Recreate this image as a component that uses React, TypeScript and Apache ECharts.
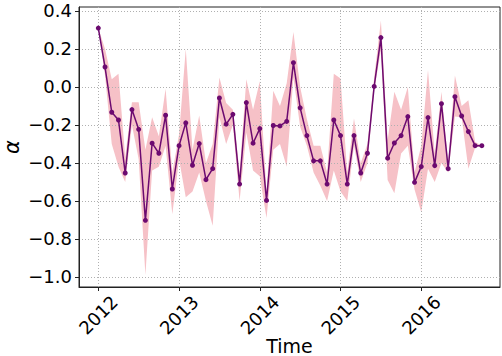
import React, { useEffect, useRef } from "react";
import * as echarts from "echarts";

// Monthly series, starting January 2012
const startYear = 2012;
const alpha = [
  0.31, 0.105, -0.133, -0.174, -0.453, -0.119, -0.223, -0.702, -0.296, -0.349, -0.149, -0.537,
  -0.309, -0.189, -0.412, -0.298, -0.488, -0.43, -0.058, -0.196, -0.144, -0.511, -0.082, -0.296,
  -0.219, -0.597, -0.203, -0.205, -0.181, 0.128, -0.11, -0.256, -0.389, -0.389, -0.511, -0.174,
  -0.256, -0.511, -0.256, -0.453, -0.349, 0.003, 0.26, -0.375, -0.295, -0.256, -0.156, -0.502,
  -0.419, -0.161, -0.414, -0.088, -0.43, -0.051, -0.153, -0.235, -0.309, -0.309,
];
const upper = [
  0.31, 0.2, 0.04, 0.07, -0.37, -0.08, -0.08, -0.33, -0.16, -0.26, -0.01, -0.45,
  -0.25, 0.2, -0.33, -0.15, -0.4, -0.3, 0.05, -0.085, -0.12, -0.45, 0.04, -0.12,
  0.03, -0.55, -0.02, -0.1, 0.02, 0.29, 0.0, -0.17, -0.31, -0.31, -0.45, 0.07,
  0.045, -0.45, -0.165, -0.4, -0.3, 0.05, 0.35, -0.28, -0.025, -0.12, 0.0, -0.45,
  -0.31, 0.09, -0.35, -0.025, -0.4, 0.06, -0.1, -0.07, -0.29, -0.309,
];
const lower = [
  0.31, 0.06, -0.3, -0.42, -0.5, -0.2, -0.38, -0.99, -0.44, -0.42, -0.31, -0.67,
  -0.38, -0.58, -0.55, -0.45, -0.6, -0.73, -0.16, -0.3, -0.2, -0.6, -0.24, -0.44,
  -0.47, -0.69, -0.33, -0.3, -0.42, 0.05, -0.21, -0.31, -0.45, -0.52, -0.6, -0.44,
  -0.55, -0.6, -0.31, -0.5, -0.4, -0.02, 0.195, -0.49, -0.56, -0.35, -0.31, -0.54,
  -0.66, -0.43, -0.5, -0.4, -0.45, -0.155, -0.16, -0.43, -0.32, -0.309,
];
const yearTicks = [2012, 2013, 2014, 2015, 2016];
const alphaTicks = [-1.0, -0.8, -0.6, -0.4, -0.2, 0.0, 0.2, 0.4];

const LINE = "#6c0a70";
const BAND = "#f6c1c7";
const FONT = "DejaVu Sans";

// decimal-year position of each monthly observation
const times = alpha.map((_, i) => startYear + i / 12);

export default function App() {
  const ref = useRef<HTMLDivElement>(null);

  useEffect(() => {
    if (!ref.current) return;
    const chart = echarts.init(ref.current, null, { renderer: "svg" });

    const bandData = times.map((t, i) => [t, lower[i], upper[i]]);
    const lineData = times.map((t, i) => [t, alpha[i]]);

    const fmtY = (v: number) => (v < 0 ? "\u2212" : "") + Math.abs(v).toFixed(1);

    chart.setOption({
      animation: false,
      grid: {
        left: 79,
        top: 7,
        width: 421,
        height: 280,
        containLabel: false,
        outerBoundsMode: "none",
        show: true,
        borderColor: "#222",
        borderWidth: 1,
        backgroundColor: "transparent",
      },
      xAxis: {
        type: "value",
        min: 2011.761,
        max: 2016.975,
        name: "Time",
        nameLocation: "middle",
        nameGap: 49,
        nameMoveOverlap: false,
        nameTextStyle: { fontFamily: FONT, fontSize: 19, color: "#000" },
        axisLine: { show: true, onZero: false, lineStyle: { color: "#222", width: 1 } },
        axisTick: {
          show: true,
          length: 4,
          customValues: yearTicks,
          lineStyle: { color: "#222" },
        },
        axisLabel: {
          customValues: yearTicks,
          rotate: 45,
          align: "center",
          verticalAlign: "middle",
          margin: 28,
          fontFamily: FONT,
          fontSize: 18,
          color: "#000",
          formatter: (v: number) => String(Math.round(v)),
        },
        splitLine: {
          show: true,
          lineStyle: { color: "#b0b0b0", width: 1, type: [1, 2] },
        },
      },
      yAxis: {
        type: "value",
        min: -1.053,
        max: 0.421,
        name: "\u03b1",
        nameLocation: "middle",
        nameRotate: 90,
        nameGap: 57,
        nameMoveOverlap: false,
        nameTextStyle: { fontFamily: FONT, fontSize: 21, fontStyle: "italic", color: "#000" },
        axisLine: { show: true, onZero: false, lineStyle: { color: "#222", width: 1 } },
        axisTick: {
          show: true,
          length: 4,
          customValues: alphaTicks,
          lineStyle: { color: "#222" },
        },
        axisLabel: {
          customValues: alphaTicks,
          margin: 7,
          fontFamily: FONT,
          fontSize: 18,
          color: "#000",
          formatter: fmtY,
        },
        splitLine: {
          show: true,
          lineStyle: { color: "#b0b0b0", width: 1, type: [1, 2] },
        },
      },
      series: [
        {
          // uncertainty band drawn as one polygon: upper edge forward, lower edge back
          type: "custom",
          z: -1,
          silent: true,
          data: bandData,
          encode: { x: 0, y: [1, 2] },
          renderItem: (params: any, api: any) => {
            if (params.dataIndex !== 0) return null;
            const pts: number[][] = [];
            for (let i = 0; i < times.length; i++) pts.push(api.coord([times[i], upper[i]]));
            for (let i = times.length - 1; i >= 0; i--) pts.push(api.coord([times[i], lower[i]]));
            return {
              type: "polygon",
              shape: { points: pts },
              style: { fill: BAND, stroke: null },
            };
          },
        },
        {
          type: "line",
          data: lineData,
          symbol: "circle",
          symbolSize: 5,
          showSymbol: true,
          lineStyle: { color: LINE, width: 1.5 },
          itemStyle: { color: LINE },
          z: 3,
        },
      ],
    });

    return () => chart.dispose();
  }, []);

  return (
    <div
      ref={ref}
      style={{ position: "fixed", left: 0, top: 0, width: 502, height: 356, background: "#fff" }}
    />
  );
}
